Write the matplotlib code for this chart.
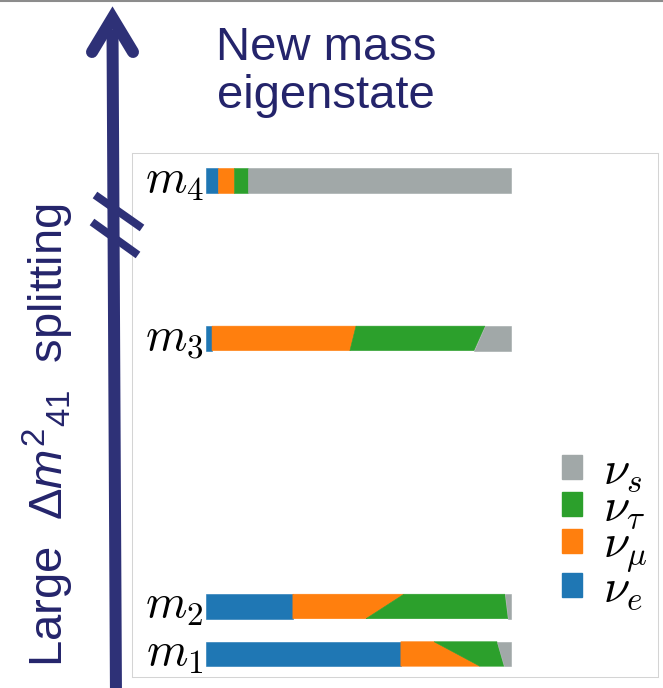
import numpy as np
import matplotlib.pyplot as plt
from matplotlib.lines import Line2D
from matplotlib.patches import Patch
from matplotlib.transforms import Affine2D

plt.rcParams['font.family'] = 'Liberation Sans'
plt.rcParams['mathtext.fontset'] = 'cm'
plt.rcParams['mathtext.rm'] = 'Liberation Sans'
plt.rcParams['mathtext.it'] = 'Liberation Sans:italic'

# mass states and their vertical level (arbitrary units)
states = ['$m_1$', '$m_2$', '$m_3$', '$m_4$']
levels = [0.0, 1.0, 6.64, 9.96]

# flavour content of each mass state, upper edge of the bar
nu_e_top = [0.639, 0.285, 0.020, 0.039]
nu_mu_top = [0.109, 0.364, 0.472, 0.052]
nu_tau_top = [0.206, 0.331, 0.423, 0.046]
nu_s_top = [0.046, 0.020, 0.085, 0.863]

# flavour content, lower edge of the bar
nu_e_bot = [0.639, 0.285, 0.020, 0.039]
nu_mu_bot = [0.259, 0.240, 0.452, 0.052]
nu_tau_bot = [0.079, 0.465, 0.407, 0.046]
nu_s_bot = [0.023, 0.010, 0.121, 0.863]

flavour_labels = [r'$\nu_e$', r'$\nu_\mu$', r'$\nu_\tau$', r'$\nu_s$']
colors = ['#1f77b4', '#ff7f0e', '#2ca02c', '#a1a8a8']
navy = '#2e3177'
text_navy = '#24246b'

W, H = 663, 688
fig = plt.figure(figsize=(W / 100, H / 100), dpi=100)
# pixel coordinates, origin top-left
px = Affine2D().scale(1 / W, -1 / H).translate(0, 1) + fig.transFigure

ax = fig.add_axes([131.5 / W, 1 - 676.7 / H, 526.2 / W, 523.7 / H])

bar_h = 0.515
for i, lvl in enumerate(levels):
    tops = [nu_e_top[i], nu_mu_top[i], nu_tau_top[i], nu_s_top[i]]
    bots = [nu_e_bot[i], nu_mu_bot[i], nu_tau_bot[i], nu_s_bot[i]]
    ct = np.concatenate([[0], np.cumsum(tops)])
    cb = np.concatenate([[0], np.cumsum(bots)])
    y1, y0 = lvl + bar_h / 2, lvl - bar_h / 2
    for k in range(4):
        ax.fill([ct[k], ct[k + 1], cb[k + 1], cb[k]], [y1, y1, y0, y0],
                facecolor=colors[k], edgecolor=colors[k], lw=0.4)
    ax.text(-0.008, lvl, states[i], ha='right', va='center', fontsize=34)

ax.set_xlim(-0.244, 1.481)
ax.set_ylim(-0.478, 10.54)
ax.set_xticks([])
ax.set_yticks([])
for sp in ax.spines.values():
    sp.set_color('#d4d4d4')
    sp.set_linewidth(0.75)

handles = [Patch(facecolor=c, edgecolor=c) for c in colors][::-1]
ax.legend(handles, flavour_labels[::-1], loc='center left',
          bbox_to_anchor=(562, 531), bbox_transform=px, frameon=False,
          fontsize=34, handlelength=0.42, handleheight=0.42, borderpad=0,
          borderaxespad=0, handletextpad=0.45, labelspacing=-0.15)

# big arrow on the left
fig.add_artist(Line2D([112.5, 116], [30, 700], transform=px, color=navy,
                      lw=12 * 0.72, solid_capstyle='butt'))
fig.add_artist(Line2D([92, 112.5, 133], [52, 18, 52], transform=px, color=navy,
                      lw=12 * 0.72, solid_joinstyle='miter',
                      solid_capstyle='round'))
# axis break
for (xa, ya, xb, yb) in [(95, 195, 142, 228), (92, 222, 138, 255)]:
    fig.add_artist(Line2D([xa, xb], [ya, yb], transform=px, color=navy,
                          lw=8 * 0.72, solid_capstyle='butt'))

fig.add_artist(Line2D([0, W], [1, 1], transform=px, color='#8c8c8c', lw=1.5))

fig.text(326, 60, 'New mass', transform=px, ha='center', va='baseline',
         fontsize=34, color=text_navy)
fig.text(326, 108, 'eigenstate', transform=px, ha='center', va='baseline',
         fontsize=34, color=text_navy)
fig.text(48, 435, r'Large  $\mathit{Δm}^{\mathit{2}}{}_{\mathit{41}}$  splitting',
         transform=px, rotation=90, ha='center', va='center', fontsize=34,
         color=text_navy, math_fontfamily='custom')

fig.savefig('out.png', dpi=100)
